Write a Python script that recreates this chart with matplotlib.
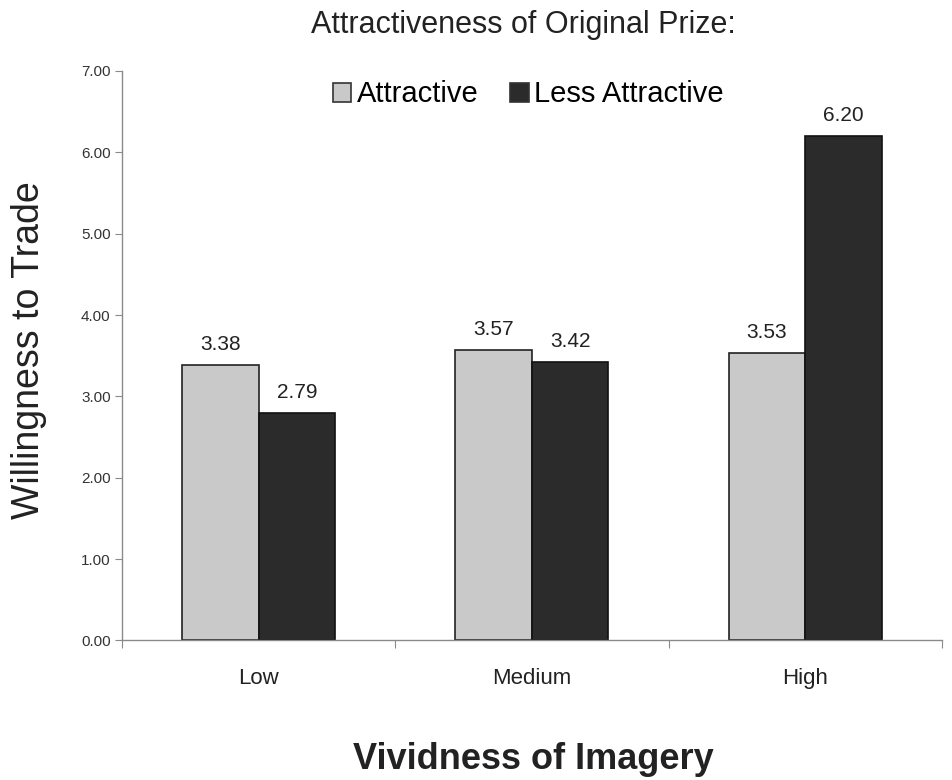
import matplotlib
matplotlib.use("Agg")
import matplotlib.pyplot as plt
import numpy as np
from matplotlib.patches import Patch

plt.rcParams['font.family'] = ['Liberation Sans', 'DejaVu Sans']

# willingness to trade by vividness of imagery
categories = ["Low", "Medium", "High"]
series_names = ["Attractive", "Less Attractive"]
attractive = [3.38, 3.57, 3.53]
less_attractive = [2.79, 3.42, 6.20]
yticks = [0, 1, 2, 3, 4, 5, 6, 7]

light = "#c9c9c9"
dark = "#2b2b2b"
axcol = "#8a8a8a"

fig = plt.figure(figsize=(9.52, 7.8), dpi=100)
ax = fig.add_axes([0.128, 0.179, 0.8615, 0.730])

x = np.arange(len(categories))
w = 0.28
b1 = ax.bar(x - w/2, attractive, w, color=light, edgecolor="#222222", linewidth=1.2)
b2 = ax.bar(x + w/2, less_attractive, w, color=dark, edgecolor="#111111", linewidth=1.2)

for bars, vals in [(b1, attractive), (b2, less_attractive)]:
    for r, v in zip(bars, vals):
        ax.annotate("%.2f" % v, (r.get_x() + r.get_width()/2, v),
                    xytext=(0, 8), textcoords="offset points",
                    ha="center", va="bottom", fontsize=15, color="#222222")

ax.set_xlim(-0.5, 2.5)
ax.set_ylim(0, 7)
ax.set_yticks(yticks)
ax.set_yticklabels(["%.2f" % t for t in yticks], fontsize=11, color="#333333")

# boundaries get the tick marks, centres get the labels
ax.set_xticks([-0.5, 0.5, 1.5, 2.5])
ax.set_xticklabels([])
ax.set_xticks(x, minor=True)
ax.set_xticklabels(categories, minor=True, fontsize=16, color="#222222")
ax.tick_params(axis="x", which="major", length=6, color=axcol, direction="out")
ax.tick_params(axis="x", which="minor", length=0, pad=20)
ax.tick_params(axis="y", length=5, color=axcol, direction="out", pad=3)

for s in ["top", "right"]:
    ax.spines[s].set_visible(False)
for s in ["left", "bottom"]:
    ax.spines[s].set_color(axcol)
    ax.spines[s].set_linewidth(1.0)

fig.text(0.55, 0.968, "Attractiveness of Original Prize:", ha="center", va="center",
         fontsize=22, color="#222222")
handles = [Patch(facecolor=light, edgecolor="#333333", linewidth=1.2),
           Patch(facecolor=dark, edgecolor="#333333", linewidth=1.2)]
fig.legend(handles, series_names, loc="center", bbox_to_anchor=(0.555, 0.879), ncol=2,
           frameon=False, fontsize=21, handlelength=0.62, handleheight=0.62,
           handletextpad=0.2, columnspacing=1.1)

fig.text(0.03, 0.551, "Willingness to Trade", rotation=90, ha="center", va="center",
         fontsize=27, color="#222222")
fig.text(0.56, 0.026, "Vividness of Imagery", ha="center", va="center",
         fontsize=26, fontweight="bold", color="#222222")

fig.savefig("out.png", dpi=100)
